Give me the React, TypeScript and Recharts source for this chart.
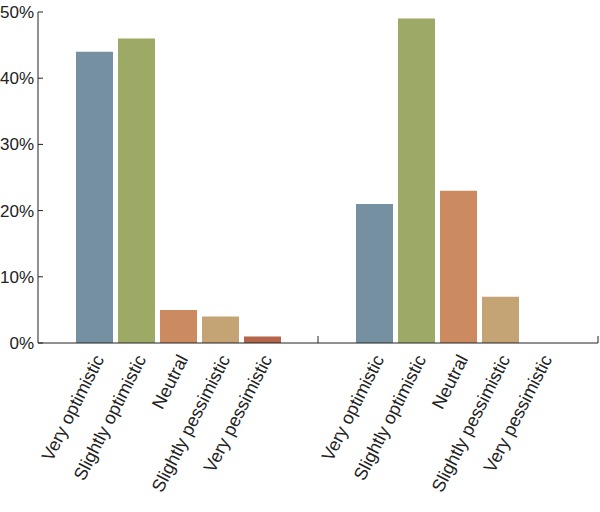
import React from "react";
import { BarChart, Bar, XAxis, YAxis } from "recharts";

const groups = ["Group A", "Group B"];
const categories = [
  "Very optimistic",
  "Slightly optimistic",
  "Neutral",
  "Slightly pessimistic",
  "Very pessimistic",
];
const groupAValues = [44, 46, 5, 4, 1];
const groupBValues = [21, 49, 23, 7, 0];
const colors = ["#7590A0", "#9DAA66", "#CB8A5F", "#C4A475", "#B4654A"];
const yTicks = [0, 10, 20, 30, 40, 50];

const BAR_SIZE = 37;
const BAR_GAP = 5;

const keys = categories.map((_, i) => `c${i}`);
const data = groups.map((g, gi) => {
  const vals = gi === 0 ? groupAValues : groupBValues;
  const row: Record<string, any> = { group: g };
  keys.forEach((k, i) => (row[k] = vals[i]));
  return row;
});

const FONT = "'Liberation Sans', Arial, sans-serif";

const YTick = (props: any) => {
  const { x, y, payload } = props;
  return (
    <g>
      <line x1={x} x2={x + 5} y1={y} y2={y} stroke="#222" strokeWidth={1} />
      <text x={x - 4} y={y} dy="0.35em" textAnchor="end" fontSize={17} fill="#222" fontFamily={FONT}>
        {`${payload.value}%`}
      </text>
    </g>
  );
};

const CategoryTick = (props: any) => {
  const { x, y, payload } = props;
  const n = categories.length;
  const half = Number(payload?.offset) || 0;
  return (
    <g>
      <line x1={x + half} x2={x + half} y1={y} y2={y - 7} stroke="#222" strokeWidth={1} />
      {categories.map((name, i) => {
        const cx = x + (i - (n - 1) / 2) * (BAR_SIZE + BAR_GAP) + 5;
        const cy = y + 13;
        return (
          <text
            key={name}
            x={cx}
            y={cy}
            dy="0.35em"
            textAnchor="end"
            fontSize={18}
            fill="#222"
            fontFamily={FONT}
            transform={`rotate(-63 ${cx} ${cy})`}
          >
            {name}
          </text>
        );
      })}
    </g>
  );
};

export default function App() {
  return (
    <div style={{ position: "absolute", left: 0, top: 0, background: "#fff" }}>
      <BarChart
        width={600}
        height={512}
        data={data}
        margin={{ top: 12, right: 2, bottom: 168, left: 0 }}
        barSize={BAR_SIZE}
        barGap={BAR_GAP}
      >
        <XAxis
          dataKey="group"
          xAxisId="cat"
          height={1}
          tickSize={0}
          tickMargin={0}
          tickLine={false}
          axisLine={{ stroke: "#222", strokeWidth: 1 }}
          tick={<CategoryTick />}
          interval={0}
        />
        <YAxis
          width={38}
          domain={[0, 50]}
          ticks={yTicks}
          tickSize={0}
          tickMargin={0}
          tickLine={false}
          axisLine={{ stroke: "#222", strokeWidth: 1 }}
          tick={<YTick />}
          interval={0}
        />
        {keys.map((k, i) => (
          <Bar key={k} dataKey={k} xAxisId="cat" fill={colors[i]} isAnimationActive={false} />
        ))}
      </BarChart>
    </div>
  );
}
